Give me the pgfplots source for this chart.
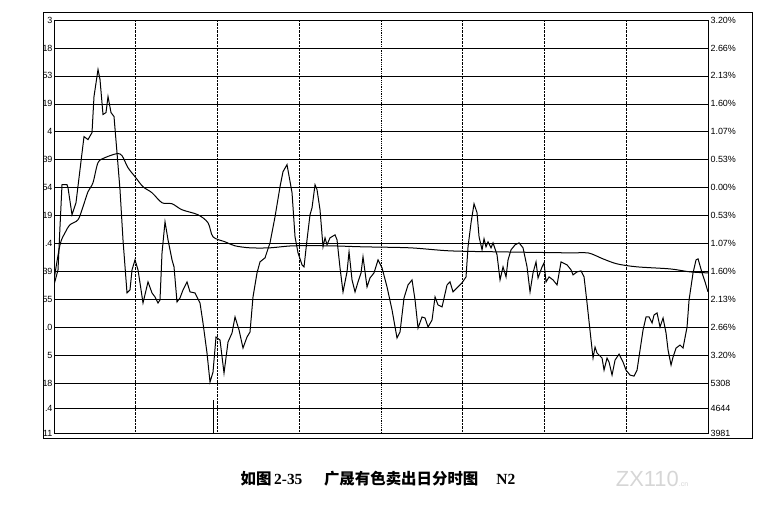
\documentclass[border=0pt]{standalone}
\usepackage{fontspec}
\setmainfont{Liberation Sans}
\newfontfamily\cjk{Noto Sans CJK SC}
\newfontfamily\tnr{Liberation Serif}
\usepackage{pgfplots}
\pgfplotsset{compat=1.18}

% price line: minute of the day, change in percent
\pgfplotsset{
  panel/.style={scale only axis, width=654bp, height=413bp,
    at={(54bp,75bp)}, anchor=south west,
    xmin=0, xmax=240, ymin=-4.68, ymax=3.2,
    major tick length=0pt,
    tick label style={font=\fontsize{9}{10}\selectfont},
    axis line style={line width=0.8bp}},
}

\begin{document}
\begin{tikzpicture}
\useasboundingbox (0,0) rectangle (778bp,508bp);
\draw[line width=0.8bp] (43bp,70bp) rectangle (752bp,496bp);
\begin{scope}
\clip (43.4bp,70.4bp) rectangle (751.6bp,495.6bp);

% horizontal grid and right-hand labels
\begin{axis}[panel,
    xtick=\empty,
    ytick={3.2,2.6667,2.1333,1.6,1.0667,0.5333,-0.5333,-1.0667,-1.6,-2.1333,-2.6667,-3.2,-4.2067,-4.68},
    yticklabels={3.20\%,2.66\%,2.13\%,1.60\%,1.07\%,0.53\%,0.53\%,1.07\%,1.60\%,2.13\%,2.66\%,3.20\%,4644,3981},
    yticklabel pos=right,
    yticklabel style={xshift=-1bp},
    ymajorgrids,
    major grid style={black, line width=0.7bp},
    extra y ticks={0,-3.7333},
    extra y tick labels={0.00\%,5308},
    extra y tick style={grid style={black, line width=1.8bp}},
  ]
\end{axis}

% time grid, left labels, price and average lines
\begin{axis}[panel,
    xtick={30,60,90,150,180,210}, xticklabels={},
    xmajorgrids,
    major grid style={black, densely dotted, line width=0.6bp},
    extra x ticks={120}, extra x tick labels={},
    extra x tick style={grid style={black, solid, line width=0.8bp}},
    ytick={3.2,2.6667,2.1333,1.6,1.0667,0.5333,0,-0.5333,-1.0667,-1.6,-2.1333,-2.6667,-3.2,-3.7333,-4.2067,-4.68},
    yticklabels={3,18,53,19,4,39,54,19,.4,39,55,.0,5,18,.4,11},
    yticklabel style={xshift=2bp},
    no markers,
  ]
\addplot[black, line width=1bp] coordinates {
(0,-1.855)(1.47,-1.568)(2.20,-0.746)(2.94,0.057)(4.77,0.057)(5.14,0)(6.61,-0.516)(8.07,-0.287)
(9.54,0.344)(11.01,0.975)(12.48,0.918)(13.95,1.052)(14.68,1.740)(16.15,2.256)(16.88,2.065)
(17.98,1.396)(19.08,1.434)(19.82,1.740)(20.92,1.434)(22.02,1.358)(23.12,0.669)(24.22,-0.038)
(25.32,-0.994)(26.79,-2.008)(27.89,-1.950)(28.63,-1.568)(29.73,-1.377)(30.83,-1.568)(31.56,-1.816)
(32.66,-2.199)(34.50,-1.797)(35.97,-2.008)(37.07,-2.084)(38.17,-2.199)(38.90,-2.141)(39.64,-1.243)
(40.74,-0.650)(41.84,-0.994)(43.31,-1.377)(44.04,-1.510)(45.14,-2.180)(46.24,-2.103)(47.34,-1.950)
(48.81,-1.797)(49.91,-1.988)(51.75,-2.008)(53.58,-2.199)(54.68,-2.581)(56.15,-3.155)(57.25,-3.709)
(58.35,-3.518)(59.45,-2.849)(60.92,-2.906)(62.39,-3.537)(63.86,-2.944)(65.33,-2.772)(66.43,-2.466)
(67.90,-2.715)(69.36,-3.059)(70.83,-2.849)(71.93,-2.753)(73.03,-2.084)(74.50,-1.625)(75.60,-1.415)
(77.44,-1.338)(79.27,-1.052)(81.11,-0.554)(82.94,0.019)(84.04,0.306)(85.51,0.440)(87.35,-0.096)
(88.45,-0.937)(89.55,-1.243)(91.02,-1.472)(91.75,-1.510)(92.85,-0.994)(93.95,-0.516)(94.69,-0.382)
(95.79,0.057)(96.52,-0.038)(97.62,-0.421)(98.72,-1.128)(99.46,-0.956)(100.19,-1.090)(101.29,-0.956)
(103.13,-0.899)(103.86,-0.994)(104.96,-1.530)(106.06,-1.988)(107.53,-1.606)(108.27,-1.224)
(109.37,-1.759)(110.47,-1.988)(111.57,-1.797)(112.67,-1.625)(113.40,-1.319)(114.87,-1.893)
(115.97,-1.721)(117.44,-1.625)(118.91,-1.377)(120.38,-1.530)(122.21,-1.893)(124.05,-2.333)
(125.88,-2.868)(126.98,-2.753)(128.45,-2.103)(129.92,-1.855)(131.39,-1.759)(132.49,-2.141)
(133.59,-2.677)(135.06,-2.466)(136.16,-2.486)(137.26,-2.658)(138.73,-2.524)(139.83,-2.084)
(140.93,-2.237)(142.40,-2.275)(144.23,-1.855)(145.33,-1.797)(146.43,-1.988)(147.90,-1.912)
(149.74,-1.816)(151.20,-1.702)(151.94,-1.128)(153.04,-0.669)(154.14,-0.306)(155.24,-0.478)
(155.98,-0.937)(157.08,-1.185)(157.81,-0.975)(158.54,-1.128)(159.28,-1.032)(160.38,-1.147)
(161.11,-1.052)(162.58,-1.281)(163.68,-1.759)(164.78,-1.510)(165.88,-1.702)(166.62,-1.377)
(167.72,-1.185)(169.19,-1.090)(170.66,-1.052)(172.12,-1.147)(173.59,-1.510)(174.69,-1.988)
(175.79,-1.625)(176.89,-1.415)(177.63,-1.721)(179.10,-1.510)(179.83,-1.434)(180.56,-1.797)
(181.67,-1.702)(183.13,-1.759)(184.60,-1.855)(186.07,-1.415)(188.27,-1.472)(189.74,-1.568)
(190.47,-1.663)(191.94,-1.606)(193.41,-1.587)(194.51,-1.702)(195.61,-2.199)(197.08,-2.906)
(197.81,-3.250)(198.55,-3.040)(199.28,-3.155)(200.02,-3.193)(201.12,-3.250)(201.85,-3.480)
(202.95,-3.250)(203.69,-3.327)(204.79,-3.575)(205.89,-3.289)(207.36,-3.174)(208.82,-3.327)
(209.92,-3.480)(211.39,-3.575)(212.86,-3.595)(213.96,-3.480)(215.06,-3.097)(216.16,-2.715)
(217.26,-2.466)(218.37,-2.466)(219.47,-2.581)(220.20,-2.428)(221.30,-2.390)(222.40,-2.658)
(223.50,-2.486)(224.60,-2.772)(225.34,-3.097)(226.44,-3.384)(227.17,-3.231)(228.27,-3.059)
(229.74,-3.002)(230.84,-3.059)(232.31,-2.658)(233.05,-2.141)(234.51,-1.625)(235.61,-1.377)
(236.35,-1.358)(237.82,-1.625)(238.92,-1.797)(240,-1.988)
};
% average price line
\addplot[black, line width=1bp, smooth] coordinates {
(0,-1.759)(2.20,-1.090)(4.04,-0.860)(5.87,-0.707)(8.81,-0.612)(10.64,-0.363)(12.48,-0.076)
(14.31,0.096)(16.15,0.478)(18.72,0.574)(23.12,0.650)(24.95,0.612)(27.16,0.382)(29.73,0.210)
(32.66,0.019)(35.97,-0.096)(39.64,-0.287)(43.31,-0.306)(46.98,-0.421)(52.84,-0.516)(56.52,-0.669)
(58.35,-0.937)(62.76,-1.032)(66.43,-1.109)(71.93,-1.147)(79.27,-1.147)(87.71,-1.109)(101.29,-1.109)
(113.40,-1.128)(130.65,-1.147)(145.33,-1.205)(163.68,-1.224)(189.37,-1.243)(195.98,-1.243)
(201.48,-1.358)(206.62,-1.453)(213.96,-1.510)(226.07,-1.549)(233.41,-1.606)(240,-1.625)
};
\end{axis}

% volume pane
\begin{axis}[panel, ymin=3981, ymax=14942, hide axis, clip=true]
\addplot[black, ycomb, line width=1.2bp, no markers] coordinates {(58.4,4857)};
\end{axis}
\end{scope}

\node[font=\fontsize{15.5}{18}\selectfont] at (378bp,29bp)
  {\cjk\bfseries 如图\,{\tnr\bfseries 2-35}\quad\, 广晟有色卖出日分时图\quad\,{\tnr\bfseries N2}};
\node[text=black!16, font=\fontsize{22}{22}\selectfont] at (652bp,29bp)
  {ZX110{\fontsize{7}{7}\selectfont .cn}};
\end{tikzpicture}
\end{document}
